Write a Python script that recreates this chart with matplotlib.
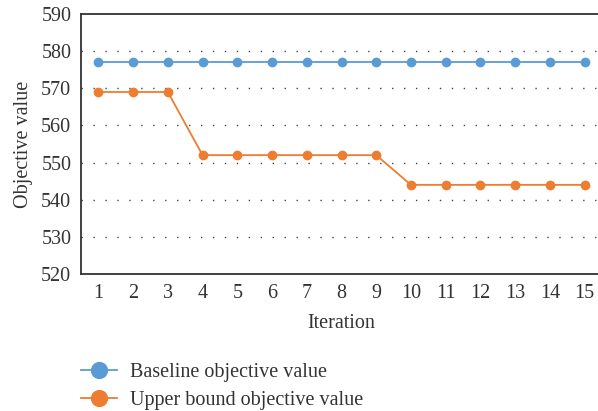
import matplotlib.pyplot as plt
import numpy as np

plt.rcParams['font.family'] = ['Liberation Serif', 'DejaVu Serif']
plt.rcParams['text.color'] = '#333333'
plt.rcParams['axes.labelcolor'] = '#333333'
plt.rcParams['xtick.color'] = '#333333'
plt.rcParams['ytick.color'] = '#333333'

iterations = list(range(1, 16))
baseline = [577] * 15
upper_bound = [569, 569, 569, 552, 552, 552, 552, 552, 552, 544, 544, 544, 544, 544, 544]
y_ticks = [520, 530, 540, 550, 560, 570, 580, 590]

fig = plt.figure(figsize=(5.98, 4.11), dpi=100)
ax = fig.add_axes([81/598, 1 - 274/411, 521/598, 260/411])

ax.plot(iterations, baseline, color='#5B9BD5', lw=1.3, marker='o', ms=6,
        label='Baseline objective value')
ax.plot(iterations, upper_bound, color='#ED7D31', lw=1.3, marker='o', ms=6,
        label='Upper bound objective value')

ax.set_xlim(0.5, 15.5)
ax.set_ylim(520, 590)
ax.set_xticks(iterations)
ax.set_yticks(y_ticks)
for y in y_ticks[1:-1]:
    ax.axhline(y, color='#444444', lw=1, ls=(0, (1, 7.6)), zorder=0)

for s in ['left', 'bottom', 'top']:
    ax.spines[s].set_color('#333333')
    ax.spines[s].set_linewidth(1.3)
ax.spines['right'].set_visible(False)
ax.tick_params(length=0, labelsize=14.5, pad=7)

ax.set_xlabel('Iteration', fontsize=14.5, labelpad=8)
ax.set_ylabel('Objective value', fontsize=14.5, labelpad=6)

fig.legend(loc='upper left', bbox_to_anchor=(63/598, 1 - 345/411), frameon=False,
           fontsize=14.5, handlelength=1.8, handletextpad=0.65, labelspacing=0.45,
           markerscale=1.9)

fig.savefig('out.png', dpi=100)
